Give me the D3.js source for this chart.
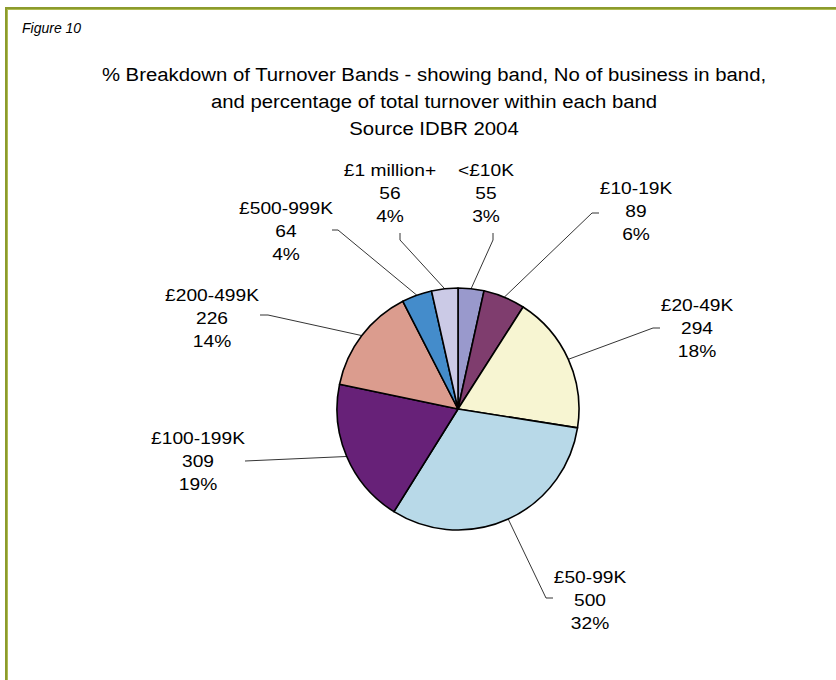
<!DOCTYPE html>
<meta charset="utf-8">
<head>
<style>
  body { margin: 0; background: #fff; }
  text { font-family: "Liberation Sans", Arial, sans-serif; fill: #000; }
</style>
</head>
<body>
<div id="my_dataviz"></div>
<script src="https://d3js.org/d3.v7.min.js"></script>
<script>
    // chart data
    const bands = ["<£10K", "£10-19K", "£20-49K", "£50-99K", "£100-199K", "£200-499K", "£500-999K", "£1 million+"];
    const counts = [55, 89, 294, 500, 309, 226, 64, 56];
    const pctLabels = ["3%", "6%", "18%", "32%", "19%", "14%", "4%", "4%"];
    const colors = ["#9999cc", "#7f3d6e", "#f7f5d2", "#b8d9e8", "#672178", "#db9c8e", "#448ccb", "#cbcae6"];
    const titleLines = [
      "% Breakdown of Turnover Bands - showing band, No of business in band,",
      "and percentage of total turnover within each band",
      "Source IDBR 2004"
    ];

    // label placement (relative to pie centre): label centre, leader end, leader knee
    const labelPos = [
      {x: 28,   y: -239, ax: 35,   ay: -176, kx: 35,   ky: -169},
      {x: 178,  y: -221, ax: 141,  ay: -196, kx: 134,  ky: -196},
      {x: 239,  y: -104, ax: 202,  ay: -81,  kx: 195,  ky: -81},
      {x: 132,  y: 168,  ax: 95,   ay: 189,  kx: 88,   ky: 189},
      {x: -260, y: 29,   ax: -213, ay: 52,   kx: -213, ky: 52},
      {x: -246, y: -114, ax: -198, ay: -94,  kx: -190, ky: -94},
      {x: -172, y: -201, ax: -126, ay: -179, kx: -120, ky: -179},
      {x: -68,  y: -239, ax: -58,  ay: -176, kx: -58,  ky: -169}
    ];

    const W = 836, H = 680;
    const cx = 458, cy = 409, radius = 121;
    const stretch = 1.13;   // the source text is a bit wider than Arial

    const svg = d3.select("#my_dataviz")
      .append("svg")
        .attr("width", W)
        .attr("height", H);

    // frame: olive top and left rules
    svg.append("rect").attr("x", 5).attr("y", 7).attr("width", W - 5).attr("height", 2).attr("fill", "#8c9b2c");
    svg.append("rect").attr("x", 5).attr("y", 9).attr("width", W - 5).attr("height", 1).attr("fill", "#b0bd55");
    svg.append("rect").attr("x", 5).attr("y", 7).attr("width", 2).attr("height", H - 7).attr("fill", "#8c9b2c");
    svg.append("rect").attr("x", 7).attr("y", 10).attr("width", 1).attr("height", H - 10).attr("fill", "#b0bd55");

    svg.append("text")
      .attr("x", 22).attr("y", 33)
      .style("font-family", "'Liberation Sans Narrow', 'Liberation Sans', sans-serif")
      .style("font-style", "italic")
      .style("font-size", "14px")
      .text("Figure 10");

    // title
    svg.append("g")
      .attr("transform", `translate(434, 0) scale(${stretch}, 1)`)
      .selectAll("text")
      .data(titleLines)
      .join("text")
        .attr("x", 0)
        .attr("y", (d, i) => 81 + i * 27)
        .attr("text-anchor", "middle")
        .style("font-size", "18px")
        .text(d => d);

    // pie
    const pie = d3.pie().sort(null).value(d => d)(counts);
    const arc = d3.arc().innerRadius(0).outerRadius(radius);
    const edge = d3.arc().innerRadius(radius).outerRadius(radius);

    const g = svg.append("g").attr("transform", `translate(${cx}, ${cy})`);

    g.selectAll("path.slice")
      .data(pie)
      .join("path")
        .attr("class", "slice")
        .attr("d", arc)
        .attr("fill", (d, i) => colors[i])
        .attr("stroke", "#000")
        .attr("stroke-width", 1.6)
        .attr("stroke-linejoin", "round");

    // leader lines
    g.selectAll("polyline")
      .data(pie)
      .join("polyline")
        .attr("fill", "none")
        .attr("stroke", "#000")
        .attr("stroke-width", 0.8)
        .attr("points", (d, i) => {
          const p = labelPos[i];
          const e = edge.centroid(d);
          return [[p.ax, p.ay], [p.kx, p.ky], e].map(q => q.join(",")).join(" ");
        });

    // labels
    g.selectAll("text.lab")
      .data(pie)
      .join("text")
        .attr("class", "lab")
        .attr("text-anchor", "middle")
        .attr("transform", (d, i) => `translate(${labelPos[i].x}, ${labelPos[i].y}) scale(${stretch}, 1)`)
        .style("font-size", "17px")
        .each(function(d, i) {
          const lines = [bands[i], String(counts[i]), pctLabels[i]];
          d3.select(this).selectAll("tspan")
            .data(lines)
            .join("tspan")
              .attr("x", 0)
              .attr("y", (l, j) => 6 + j * 23)
              .text(l => l);
        });
</script>
</body>
